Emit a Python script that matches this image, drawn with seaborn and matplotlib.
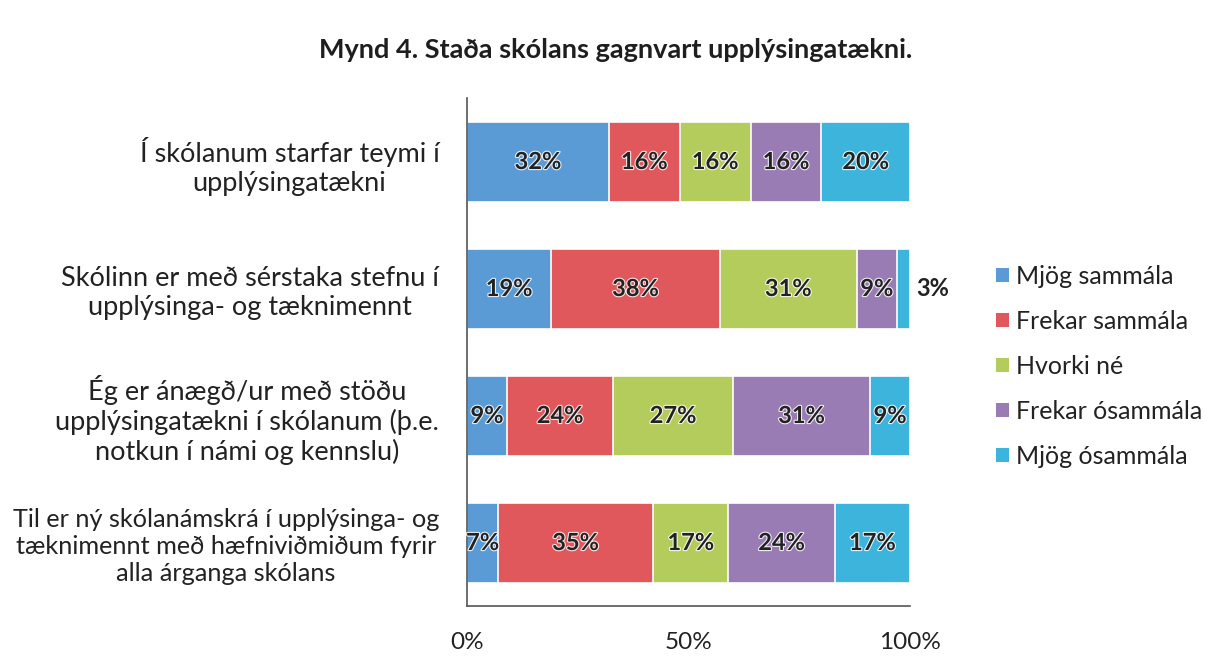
import numpy as np
import pandas as pd
import matplotlib
matplotlib.use("Agg")
import matplotlib.pyplot as plt
import matplotlib.patheffects as pe
from matplotlib.patches import Patch
import seaborn as sns

questions = [
    "Í skólanum starfar teymi í\nupplýsingatækni",
    "Skólinn er með sérstaka stefnu í\nupplýsinga- og tæknimennt",
    "Ég er ánægð/ur með stöðu\nupplýsingatækni í skólanum (þ.e.\nnotkun í námi og kennslu)",
    "Til er ný skólanámskrá í upplýsinga- og\ntæknimennt með hæfniviðmiðum fyrir\nalla árganga skólans",
]
series = ["Mjög sammála", "Frekar sammála", "Hvorki né", "Frekar ósammála", "Mjög ósammála"]
mjog_sammala = [32, 19, 9, 7]
frekar_sammala = [16, 38, 24, 35]
hvorki = [16, 31, 27, 17]
frekar_osammala = [16, 9, 31, 24]
mjog_osammala = [20, 3, 9, 17]
colors = ["#5A9BD5", "#E0575C", "#B4CC5C", "#9A7CB5", "#3CB4DC"]

sns.set_style("white")
plt.rcParams["font.family"] = ["Lato", "DejaVu Sans"]

vals = np.array([mjog_sammala, frekar_sammala, hvorki, frekar_osammala, mjog_osammala]).T
cum = vals.cumsum(axis=1)

fig = plt.figure(figsize=(12.05, 6.65), dpi=100)
ax = fig.add_axes([0.3876, 0.0887, 0.3676, 0.7639])

# stacked look: draw cumulative totals from the right, each over the previous
for i in reversed(range(len(series))):
    df = pd.DataFrame({"q": questions, "v": cum[:, i]})
    sns.barplot(data=df, x="v", y="q", orient="h", color=colors[i], width=0.63,
                edgecolor="white", linewidth=1.2, saturation=1, ax=ax, legend=False)

shadow = [pe.withStroke(linewidth=1.6, foreground="white", alpha=0.85)]
for r in range(len(questions)):
    for i in range(len(series)):
        v = vals[r, i]
        if v < 5:
            x, ha, eff = cum[r, i] + 1.3, "left", None
        else:
            x, ha, eff = cum[r, i] - v / 2, "center", shadow
        ax.text(x, r, f"{v}%", ha=ha, va="center", fontsize=17, fontweight="bold",
                color="#222222", path_effects=eff, clip_on=False)

ax.set_xlim(0, 100)
ax.set_ylim(3.5, -0.5)
ax.set_xticks([0, 50, 100])
ax.set_xticklabels(["0%", "50%", "100%"], fontsize=17.5, color="#222222")
ax.tick_params(axis="x", pad=19, length=0)
ax.tick_params(axis="y", length=0, pad=20)
ax.set_yticks(range(len(questions)))
ax.set_yticklabels(questions, fontsize=19.5, color="#222222", multialignment="center")
ax.get_yticklabels()[3].set_fontsize(18.2)
ax.set_xlabel("")
ax.set_ylabel("")
for s in ["top", "right"]:
    ax.spines[s].set_visible(False)
for s in ["left", "bottom"]:
    ax.spines[s].set_color("#555555")
    ax.spines[s].set_linewidth(1.2)

leg_handles = [Patch(facecolor=c, edgecolor="none") for c in colors]
fig.legend(leg_handles, series, loc="center left", bbox_to_anchor=(0.808, 0.449),
           frameon=False, fontsize=18, handlelength=0.5, handleheight=0.5,
           handletextpad=0.3, labelspacing=0.88, labelcolor="#222222")

fig.text(0.511, 0.925, "Mynd 4. Staða skólans gagnvart upplýsingatækni.",
         ha="center", va="center", fontsize=19.5, fontweight="bold", color="#1e1e1e")

fig.savefig("out.png", dpi=100)
